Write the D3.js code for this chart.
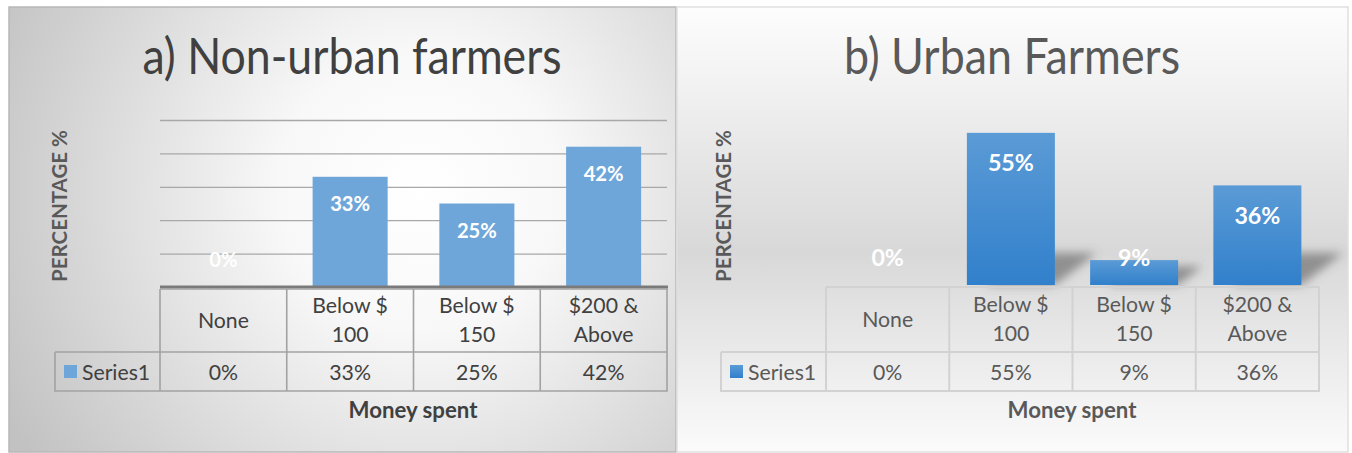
<!DOCTYPE html>
<html><head><meta charset="utf-8">
<script src="https://cdn.jsdelivr.net/npm/d3@7"></script>
<style>html,body{margin:0;padding:0;background:#fff;}svg{display:block;}</style>
</head><body>
<script>
// ---- data ----
const categories = [["None"], ["Below $", "100"], ["Below $", "150"], ["$200 &", "Above"]];
const seriesName = "Series1";
const nonUrbanValues = [0, 33, 25, 42];
const urbanValues = [0, 55, 9, 36];
const nonUrbanTicks = [10, 20, 30, 40, 50];
const titles = ["a) Non-urban farmers", "b) Urban Farmers"];
const yAxisTitle = "PERCENTAGE %";
const xAxisTitle = "Money spent";

const W = 1352, H = 453;
const svg = d3.select("body").append("svg").attr("width", W).attr("height", H);
const defs = svg.append("defs");
const FONT = "Lato, 'Open Sans', sans-serif";

// gradients / filters
const rg = defs.append("radialGradient").attr("id", "bgL").attr("gradientUnits", "userSpaceOnUse")
  .attr("cx", 420).attr("cy", 190).attr("r", 470);
rg.append("stop").attr("offset", 0).attr("stop-color", "#ffffff");
rg.append("stop").attr("offset", 0.3).attr("stop-color", "#f8f8f8");
rg.append("stop").attr("offset", 1).attr("stop-color", "#c2c2c2");

const lg = defs.append("linearGradient").attr("id", "bgR").attr("x1", 0).attr("y1", 0).attr("x2", 0).attr("y2", 1);
[[0, "#fdfdfd"], [0.2, "#f0f0f0"], [0.55, "#d8d8d8"], [0.75, "#e8e8e8"], [1, "#fbfbfb"]]
  .forEach(([o, c]) => lg.append("stop").attr("offset", o).attr("stop-color", c));

const barG = defs.append("linearGradient").attr("id", "barR").attr("x1", 0).attr("y1", 0).attr("x2", 0).attr("y2", 1);
barG.append("stop").attr("offset", 0).attr("stop-color", "#5b9bd6");
barG.append("stop").attr("offset", 1).attr("stop-color", "#3180cb");

const blur = defs.append("filter").attr("id", "blur").attr("x", "-50%").attr("y", "-50%").attr("width", "200%").attr("height", "200%");
blur.append("feGaussianBlur").attr("stdDeviation", 5);

function fit(sel, target) {
  const n = sel.node();
  const base = parseFloat(sel.attr("font-size"));
  const len = n.getComputedTextLength();
  const fs = base * target / len;
  sel.attr("font-size", fs);
  return fs;
}

const panels = [
  { title: titles[0], values: nonUrbanValues, ticks: nonUrbanTicks, yMax: 50,
    frame: [9, 7, 676, 452], bg: "url(#bgL)", frameStroke: "#b8b8b8",
    x0: 160, x1: 667, legendX: 55, base: 287, top: 120, rowMid: 352, rowBot: 391,
    padding: 0.408, barFill: "#6fa6da", labelOff: 27, labelSize: 40,
    titleCx: 352, titleW: 419, titleColor: "#404040", textColor: "#404040",
    tableStroke: "#a2a2a2", tableW: 1.6, axisStroke: "#7a7a7a", grid: true, shadow: false,
    yTitleX: 60, xTitleCx: 413, legendSq: 64 },
  { title: titles[1], values: urbanValues, ticks: [], yMax: 60,
    frame: [677, 7, 1348, 452], bg: "url(#bgR)", frameStroke: "#e0e0e0",
    x0: 826, x1: 1319, legendX: 721, base: 285, top: 119, rowMid: 352, rowBot: 391,
    padding: 0.286, barFill: "url(#barR)", labelOff: 30, labelSize: 46,
    titleCx: 1012, titleW: 336, titleColor: "#595959", textColor: "#595959",
    tableStroke: "#d2d2d2", tableW: 2, axisStroke: null, grid: false, shadow: true,
    yTitleX: 724, xTitleCx: 1072, legendSq: 730 }
];

const SQUEEZE = 0.88; // narrower glyphs for the titles

panels.forEach(p => {
  const g = svg.append("g");
  const [fx0, fy0, fx1, fy1] = p.frame;
  g.append("rect").attr("x", fx0).attr("y", fy0).attr("width", fx1 - fx0).attr("height", fy1 - fy0)
    .attr("fill", p.bg).attr("stroke", p.frameStroke).attr("stroke-width", 1.5);

  // title (slightly condensed)
  const t = g.append("text").text(p.title).attr("x", 0).attr("y", 0)
    .attr("transform", `translate(${p.titleCx},74) scale(${SQUEEZE},1)`)
    .attr("text-anchor", "middle").attr("font-family", FONT).attr("font-weight", 400)
    .attr("font-size", 40).attr("fill", p.titleColor);
  fit(t, p.titleW / SQUEEZE);

  const idx = categories.map((d, i) => i);
  const rows = p.values.map((v, i) => ({ v, i }));
  const x = d3.scaleBand().domain(idx).range([p.x0, p.x1]).paddingInner(p.padding).paddingOuter(p.padding / 2);
  const y = d3.scaleLinear().domain([0, p.yMax]).range([p.base, p.top]);
  const step = x.step();

  // gridlines
  if (p.grid) {
    const ax = d3.axisLeft(y).tickValues(p.ticks).tickSize(-(p.x1 - p.x0)).tickFormat("");
    const ga = g.append("g").attr("transform", `translate(${p.x0},0)`).call(ax);
    ga.select(".domain").remove();
    ga.selectAll(".tick line").attr("stroke", "#a8a8a8").attr("stroke-width", 1.3);
  }

  // shadows
  if (p.shadow) {
    g.append("g").attr("filter", "url(#blur)").selectAll("path").data(rows.filter(r => r.v > 0)).join("path")
      .attr("d", r => {
        const bx = x(r.i), bw = x.bandwidth(), b = p.base;
        const h = p.base - y(r.v);
        const dy = Math.min(h * 0.75, 32), dx = dy * 1.3;
        return `M${bx + bw * 0.2},${b} L${bx + bw},${b} L${bx + bw + dx},${b - dy} L${bx + bw * 0.2 + dx},${b - dy} Z`;
      })
      .attr("fill", "#5e5e5e").attr("opacity", 0.6);
  }

  // bars
  g.append("g").selectAll("rect").data(rows).join("rect")
    .attr("x", r => x(r.i)).attr("width", x.bandwidth())
    .attr("y", r => y(r.v)).attr("height", r => p.base - y(r.v))
    .attr("fill", p.barFill);

  // axis line
  if (p.axisStroke) {
    g.append("line").attr("x1", p.x0).attr("x2", p.x1 + 1).attr("y1", p.base).attr("y2", p.base)
      .attr("stroke", p.axisStroke).attr("stroke-width", 3);
  }

  // value labels
  const lbls = g.append("g").selectAll("text").data(rows).join("text")
    .text(r => r.v + "%")
    .attr("x", r => x(r.i) + x.bandwidth() / 2)
    .attr("y", r => Math.min(y(r.v) + p.labelOff, p.base - 27))
    .attr("dy", "0.35em").attr("text-anchor", "middle")
    .attr("font-family", FONT).attr("font-weight", 700).attr("font-size", 18).attr("fill", "#ffffff");
  const lfs = fit(d3.select(lbls.nodes()[1]), p.labelSize);
  lbls.attr("font-size", lfs);

  // data table
  const tg = g.append("g").attr("fill", "none").attr("stroke", p.tableStroke).attr("stroke-width", p.tableW);
  tg.append("path").attr("d",
    `M${p.x0},${p.base + 2} V${p.rowBot} M${p.legendX},${p.rowMid} H${p.x1} V${p.base + 2} H${p.x0}` +
    ` M${p.legendX},${p.rowMid} V${p.rowBot} H${p.x1} V${p.rowMid}` +
    idx.slice(1).map(i => ` M${p.x0 + i * step},${p.base + 2} V${p.rowBot}`).join(""));

  // category text
  const cg = g.append("g").attr("font-family", FONT).attr("fill", p.textColor).attr("text-anchor", "middle");
  const probe = cg.append("text").text(categories[0][0]).attr("font-size", 20);
  const tfs = fit(probe, 51);
  probe.remove();
  const cellMid = (p.base + p.rowMid) / 2;
  categories.forEach((lines, i) => {
    const cx = p.x0 + (i + 0.5) * step;
    const lh = 29;
    lines.forEach((ln, k) => {
      cg.append("text").text(ln).attr("x", cx)
        .attr("y", cellMid + (k - (lines.length - 1) / 2) * lh + 1)
        .attr("dy", "0.35em").attr("font-size", tfs);
    });
    cg.append("text").text(p.values[i] + "%").attr("x", cx).attr("y", (p.rowMid + p.rowBot) / 2 + 1)
      .attr("dy", "0.35em").attr("font-size", tfs);
  });

  // legend cell
  g.append("rect").attr("x", p.legendSq).attr("y", 365).attr("width", 13).attr("height", 13).attr("fill", p.barFill);
  g.append("text").text(seriesName).attr("x", p.legendSq + 18).attr("y", (p.rowMid + p.rowBot) / 2 + 1)
    .attr("dy", "0.35em").attr("font-family", FONT).attr("font-size", tfs).attr("fill", p.textColor);

  // axis titles
  const yt = g.append("text").text(yAxisTitle)
    .attr("transform", `translate(${p.yTitleX},206) rotate(-90)`)
    .attr("text-anchor", "middle").attr("dy", "0.35em")
    .attr("font-family", FONT).attr("font-weight", 700).attr("font-size", 16).attr("fill", "#595959");
  fit(yt, 152);
  const xt = g.append("text").text(xAxisTitle).attr("x", p.xTitleCx).attr("y", 410)
    .attr("text-anchor", "middle").attr("dy", "0.35em")
    .attr("font-family", FONT).attr("font-weight", 700).attr("font-size", 18).attr("fill", p.textColor);
  fit(xt, 129);
});
</script>
</body></html>
